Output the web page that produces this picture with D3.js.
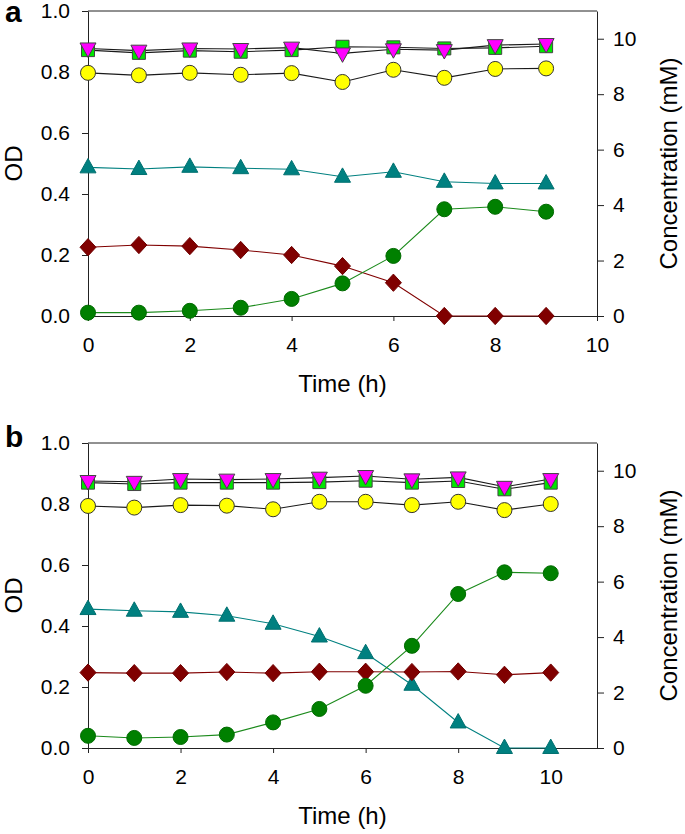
<!DOCTYPE html>
<html>
<head>
<meta charset="utf-8">
<script src="https://cdn.jsdelivr.net/npm/d3@7"></script>
<style>
  html, body { margin: 0; padding: 0; background: #fff; }
  svg { display: block; font-family: "Liberation Sans", Arial, sans-serif; }
  .axis text { font-size: 21px; fill: #000; }
  .axis line, .axis path { stroke: #222; stroke-width: 1; }
</style>
</head>
<body>
<svg id="chart" width="685" height="834"></svg>
<script>
// ---------- data ----------
const timeA = [0, 1, 2, 3, 4, 5, 6, 7, 8, 9];
const timeB = [0, 1, 2, 3, 4, 5, 6, 7, 8, 9, 10];

// panel a
const odA      = [0.011, 0.011, 0.017, 0.027, 0.056, 0.107, 0.197, 0.350, 0.358, 0.342];
const tealA    = [5.36, 5.30, 5.38, 5.33, 5.29, 5.02, 5.20, 4.84, 4.78, 4.78];
const redA     = [2.48, 2.56, 2.52, 2.38, 2.20, 1.80, 1.20, 0, 0, 0];
const yellowA  = [8.77, 8.68, 8.77, 8.70, 8.76, 8.44, 8.88, 8.59, 8.91, 8.93];
const squareA  = [9.59, 9.49, 9.57, 9.53, 9.59, 9.71, 9.69, 9.65, 9.67, 9.73];
const magentaA = [9.65, 9.57, 9.65, 9.63, 9.68, 9.47, 9.62, 9.59, 9.77, 9.81];

// panel b
const odB      = [0.040, 0.033, 0.036, 0.044, 0.084, 0.128, 0.204, 0.335, 0.505, 0.576, 0.573];
const tealB    = [5.01, 4.95, 4.91, 4.77, 4.48, 4.02, 3.42, 2.28, 0.92, 0, 0];
const redB     = [2.72, 2.70, 2.70, 2.74, 2.70, 2.75, 2.75, 2.74, 2.76, 2.64, 2.72];
const yellowB  = [8.73, 8.67, 8.76, 8.74, 8.61, 8.88, 8.88, 8.76, 8.88, 8.58, 8.80];
const squareB  = [9.57, 9.52, 9.57, 9.57, 9.57, 9.59, 9.64, 9.57, 9.63, 9.33, 9.57];
const magentaB = [9.63, 9.60, 9.70, 9.68, 9.70, 9.75, 9.81, 9.69, 9.76, 9.42, 9.70];

// ticks
const odTicks   = [0, 0.2, 0.4, 0.6, 0.8, 1.0];
const concTicks = [0, 2, 4, 6, 8, 10];
const timeTicks = [0, 2, 4, 6, 8, 10];

const xTitle = "Time (h)";
const yLeftTitle = "OD";
const yRightTitle = "Concentration (mM)";

// ---------- shapes ----------
const shapes = {
  circle: r => `M${-r},0A${r},${r} 0 1,0 ${r},0A${r},${r} 0 1,0 ${-r},0Z`,
  square: s => `M${-s/2},${-s/2}H${s/2}V${s/2}H${-s/2}Z`,
  triUp: w => { const h = w * 0.9; return `M0,${-h*0.62}L${w/2},${h*0.38}L${-w/2},${h*0.38}Z`; },
  triDown: w => { const h = w * 0.9; return `M0,${h*0.62}L${w/2},${-h*0.38}L${-w/2},${-h*0.38}Z`; },
  diamond: w => { const h = w * 1.08; return `M0,${-h/2}L${w/2},0L0,${h/2}L${-w/2},0Z`; }
};

const svg = d3.select("#chart");

function drawPanel(cfg) {
  const g = svg.append("g");
  const x = d3.scaleLinear().domain([0, cfg.xMax]).range([88, 597]);
  const yL = d3.scaleLinear().domain([0, 1.0]).range([cfg.bottom, cfg.bottom - 305]);
  const yR = d3.scaleLinear().domain([0, 11]).range([cfg.bottom, cfg.bottom - 305]);

  // frame top line
  g.append("line")
    .attr("x1", x(0)).attr("x2", x(cfg.xMax))
    .attr("y1", yL(1.0)).attr("y2", yL(1.0))
    .attr("stroke", "#222");

  g.append("g").attr("class", "axis")
    .attr("transform", `translate(0,${cfg.bottom})`)
    .call(d3.axisBottom(x).tickValues(timeTicks).tickFormat(d3.format("d")).tickSize(5).tickSizeOuter(0).tickPadding(16));

  g.append("g").attr("class", "axis")
    .attr("transform", `translate(${x(0)},0)`)
    .call(d3.axisLeft(yL).tickValues(odTicks).tickFormat(d3.format(".1f")).tickSize(6).tickSizeOuter(0).tickPadding(12));

  g.append("g").attr("class", "axis")
    .attr("transform", `translate(${x(cfg.xMax)},0)`)
    .call(d3.axisRight(yR).tickValues(concTicks).tickFormat(d3.format("d")).tickSize(7).tickSizeOuter(0).tickPadding(9));

  // titles
  g.append("text").attr("x", (x(0) + x(cfg.xMax)) / 2).attr("y", cfg.bottom + 76)
    .attr("text-anchor", "middle").attr("font-size", 24).text(xTitle);
  g.append("text").attr("transform", `translate(22,${cfg.bottom - 152.5}) rotate(-90)`)
    .attr("text-anchor", "middle").attr("font-size", 24).text(yLeftTitle);
  g.append("text").attr("transform", `translate(677,${cfg.bottom - 152.5}) rotate(-90)`)
    .attr("text-anchor", "middle").attr("font-size", 24).text(yRightTitle);
  g.append("text").attr("x", 5).attr("y", cfg.labelY)
    .attr("font-size", 30).attr("font-weight", "bold").text(cfg.label);

  const series = [
    { vals: cfg.yellow,  y: yR, line: "#1a1a1a", fill: "#ffff00", stroke: "#333", shape: shapes.circle(7.5) },
    { vals: cfg.square,  y: yR, line: "#1a1a1a", fill: "#00e600", stroke: "#444", shape: shapes.square(13) },
    { vals: cfg.magenta, y: yR, line: "#1a1a1a", fill: "#ff00ff", stroke: "#444", shape: shapes.triDown(16) },
    { vals: cfg.teal,    y: yR, line: "#008080", fill: "#008080", stroke: "#007070", shape: shapes.triUp(16) },
    { vals: cfg.red,     y: yR, line: "#800000", fill: "#800000", stroke: "#700000", shape: shapes.diamond(16) },
    { vals: cfg.od,      y: yL, line: "#1b8a1b", fill: "#008000", stroke: "#006a00", shape: shapes.circle(7.5) }
  ];

  series.forEach(s => {
    const pts = cfg.time.map((t, i) => [t, s.vals[i]]);
    const line = d3.line().x(d => x(d[0])).y(d => s.y(d[1]));
    g.append("path").attr("d", line(pts)).attr("fill", "none")
      .attr("stroke", s.line).attr("stroke-width", 1.1);
  });
  series.forEach(s => {
    const pts = cfg.time.map((t, i) => [t, s.vals[i]]);
    g.append("g").selectAll("path").data(pts).join("path")
      .attr("transform", d => `translate(${x(d[0])},${s.y(d[1])})`)
      .attr("d", s.shape)
      .attr("fill", s.fill).attr("stroke", s.stroke).attr("stroke-width", 1);
  });
}

drawPanel({ label: "a", labelY: 22, bottom: 316, xMax: 10, time: timeA,
  od: odA, teal: tealA, red: redA, yellow: yellowA, square: squareA, magenta: magentaA });
drawPanel({ label: "b", labelY: 447, bottom: 748, xMax: 11, time: timeB,
  od: odB, teal: tealB, red: redB, yellow: yellowB, square: squareB, magenta: magentaB });
</script>
</body>
</html>
